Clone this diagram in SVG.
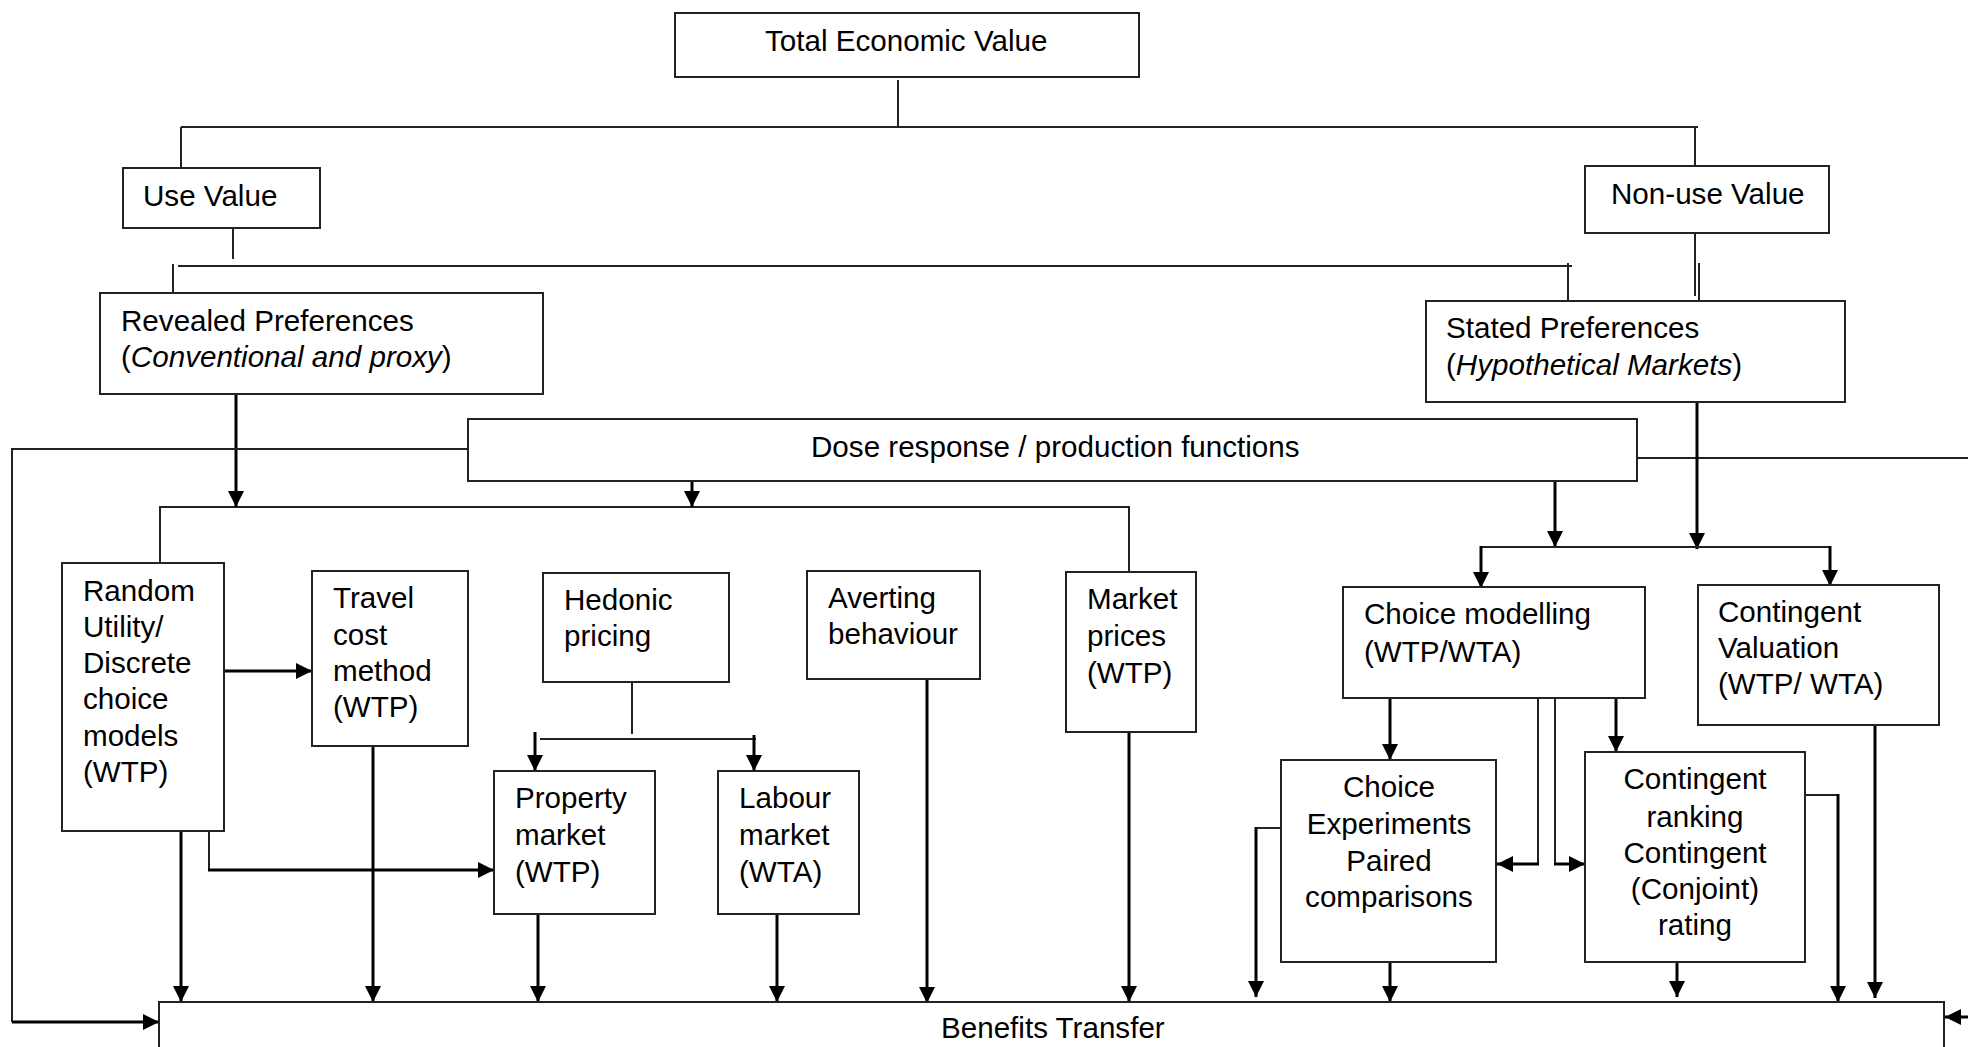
<svg xmlns="http://www.w3.org/2000/svg" width="1968" height="1047" viewBox="0 0 1968 1047">
  <defs>
    <style>
      .box { fill: #ffffff; stroke: #222222; stroke-width: 2; }
      .t { font-family: "Liberation Sans", Arial, sans-serif; font-size: 29.6px; fill: #000000; }
      .c { text-anchor: middle; }
      .thin { fill: none; stroke: #222222; stroke-width: 2; }
      .arr { fill: none; stroke: #000000; stroke-width: 3; marker-end: url(#head); }
    </style>
    <marker id="head" markerUnits="userSpaceOnUse" markerWidth="16" markerHeight="16" refX="16" refY="8" orient="auto">
      <path d="M0,0 L16,8 L0,16 Z" fill="#000000"/>
    </marker>
  </defs>
  <rect width="1968" height="1047" fill="#ffffff"/>

  <!-- connectors -->
  <g id="connectors">
    <!-- value tree -->
    <path class="thin" d="M898,80 V127 M181,127 H1698 M181,127 V168 M1695,127 V166"/>
    <path class="thin" d="M233,228 V259 M178,266 H1572 M173,264 V293 M1568,263 V302"/>
    <path class="thin" d="M1695,233 V296 M1699,263 V302"/>
    <!-- revealed preference methods distribution -->
    <path class="thin" d="M160,563 V507 H1129 V572"/>
    <path class="arr" d="M236,394 V507"/>
    <path class="arr" d="M692,482 V507"/>
    <path class="arr" d="M224,671 H312"/>
    <path class="arr" d="M181,829 V1002"/>
    <path class="thin" d="M209,831 V870"/>
    <path class="arr" d="M208,870 H494"/>
    <path class="arr" d="M373,746 V1002"/>
    <!-- hedonic pricing split -->
    <path class="thin" d="M632,682 V734 M540,739 H756"/>
    <path class="arr" d="M535,732 V771"/>
    <path class="arr" d="M754,735 V771"/>
    <path class="arr" d="M538,912 V1002"/>
    <path class="arr" d="M777,912 V1002"/>
    <path class="arr" d="M927,680 V1003"/>
    <path class="arr" d="M1129,732 V1002"/>
    <!-- dose response feedback lines -->
    <path class="thin" d="M468,449 H12 V1022"/>
    <path class="arr" d="M12,1022 H159"/>
    <path class="thin" d="M1637,458 H1968"/>
    <path class="arr" d="M1968,1017 H1945"/>
    <!-- stated preference methods distribution -->
    <path class="arr" d="M1697,402 V549"/>
    <path class="arr" d="M1555,482 V547"/>
    <path class="thin" d="M1481,547 H1830"/>
    <path class="arr" d="M1481,546 V588"/>
    <path class="arr" d="M1830,546 V586"/>
    <path class="arr" d="M1390,698 V760"/>
    <path class="thin" d="M1538,698 V864 M1555,698 V864"/>
    <path class="arr" d="M1539,864 H1497"/>
    <path class="arr" d="M1554,864 H1585"/>
    <path class="arr" d="M1616,698 V752"/>
    <path class="thin" d="M1281,828 H1256"/>
    <path class="arr" d="M1256,827 V997"/>
    <path class="arr" d="M1390,962 V1002"/>
    <path class="arr" d="M1677,962 V997"/>
    <path class="thin" d="M1805,795 H1838"/>
    <path class="arr" d="M1838,794 V1002"/>
    <path class="arr" d="M1875,725 V998"/>
  </g>

  <g id="total-economic-value">
    <rect class="box" x="675" y="13" width="464" height="64"/>
    <text class="t" x="765" y="51">Total Economic Value</text>
  </g>
  <g id="use-value">
    <rect class="box" x="123" y="168" width="197" height="60"/>
    <text class="t" x="143" y="206">Use Value</text>
  </g>
  <g id="non-use-value">
    <rect class="box" x="1585" y="166" width="244" height="67"/>
    <text class="t" x="1611" y="204">Non-use Value</text>
  </g>
  <g id="revealed-preferences">
    <rect class="box" x="100" y="293" width="443" height="101"/>
    <text class="t" x="121" y="331">Revealed Preferences</text>
    <text class="t" x="121" y="367">(<tspan font-style="italic">Conventional and proxy</tspan>)</text>
  </g>
  <g id="stated-preferences">
    <rect class="box" x="1426" y="301" width="419" height="101"/>
    <text class="t" x="1446" y="338">Stated Preferences</text>
    <text class="t" x="1446" y="375">(<tspan font-style="italic">Hypothetical Markets</tspan>)</text>
  </g>
  <g id="dose-response">
    <rect class="box" x="468" y="419" width="1169" height="62"/>
    <text class="t" x="811" y="457">Dose response / production functions</text>
  </g>
  <g id="random-utility">
    <rect class="box" x="62" y="563" width="162" height="268"/>
    <text class="t" x="83" y="601">Random</text>
    <text class="t" x="83" y="637">Utility/</text>
    <text class="t" x="83" y="673">Discrete</text>
    <text class="t" x="83" y="709">choice</text>
    <text class="t" x="83" y="746">models</text>
    <text class="t" x="83" y="782">(WTP)</text>
  </g>
  <g id="travel-cost">
    <rect class="box" x="312" y="571" width="156" height="175"/>
    <text class="t" x="333" y="608">Travel</text>
    <text class="t" x="333" y="645">cost</text>
    <text class="t" x="333" y="681">method</text>
    <text class="t" x="333" y="717">(WTP)</text>
  </g>
  <g id="hedonic-pricing">
    <rect class="box" x="543" y="573" width="186" height="109"/>
    <text class="t" x="564" y="610">Hedonic</text>
    <text class="t" x="564" y="646">pricing</text>
  </g>
  <g id="averting-behaviour">
    <rect class="box" x="807" y="571" width="173" height="108"/>
    <text class="t" x="828" y="608">Averting</text>
    <text class="t" x="828" y="644">behaviour</text>
  </g>
  <g id="market-prices">
    <rect class="box" x="1066" y="572" width="130" height="160"/>
    <text class="t" x="1087" y="609">Market</text>
    <text class="t" x="1087" y="646">prices</text>
    <text class="t" x="1087" y="683">(WTP)</text>
  </g>
  <g id="property-market">
    <rect class="box" x="494" y="771" width="161" height="143"/>
    <text class="t" x="515" y="808">Property</text>
    <text class="t" x="515" y="845">market</text>
    <text class="t" x="515" y="882">(WTP)</text>
  </g>
  <g id="labour-market">
    <rect class="box" x="718" y="771" width="141" height="143"/>
    <text class="t" x="739" y="808">Labour</text>
    <text class="t" x="739" y="845">market</text>
    <text class="t" x="739" y="882">(WTA)</text>
  </g>
  <g id="choice-modelling">
    <rect class="box" x="1343" y="587" width="302" height="111"/>
    <text class="t" x="1364" y="624">Choice modelling</text>
    <text class="t" x="1364" y="662">(WTP/WTA)</text>
  </g>
  <g id="contingent-valuation">
    <rect class="box" x="1698" y="585" width="241" height="140"/>
    <text class="t" x="1718" y="622">Contingent</text>
    <text class="t" x="1718" y="658">Valuation</text>
    <text class="t" x="1718" y="694">(WTP/ WTA)</text>
  </g>
  <g id="choice-experiments">
    <rect class="box" x="1281" y="760" width="215" height="202"/>
    <text class="t c" x="1389" y="797">Choice</text>
    <text class="t c" x="1389" y="834">Experiments</text>
    <text class="t c" x="1389" y="871">Paired</text>
    <text class="t c" x="1389" y="907">comparisons</text>
  </g>
  <g id="contingent-ranking">
    <rect class="box" x="1585" y="752" width="220" height="210"/>
    <text class="t c" x="1695" y="789">Contingent</text>
    <text class="t c" x="1695" y="827">ranking</text>
    <text class="t c" x="1695" y="863">Contingent</text>
    <text class="t c" x="1695" y="899">(Conjoint)</text>
    <text class="t c" x="1695" y="935">rating</text>
  </g>
  <g id="benefits-transfer">
    <rect class="box" x="159" y="1002" width="1785" height="60"/>
    <text class="t" x="941" y="1038">Benefits Transfer</text>
  </g>
</svg>
